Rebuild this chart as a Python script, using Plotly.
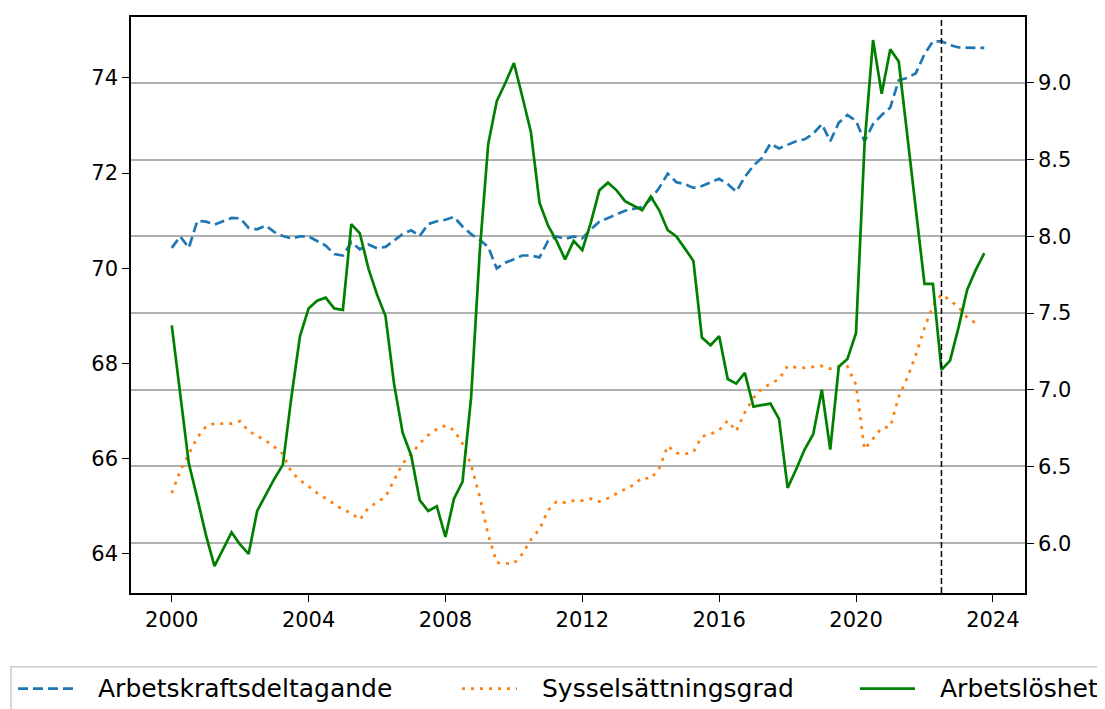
import pandas as pd
import plotly.graph_objects as go

# quarterly observations 2000Q1 - 2023Q4
dates = pd.date_range("2000-01-01", periods=96, freq="QS")

arbetskraft = [
    70.43, 70.67, 70.43, 71.00,
    70.98, 70.92, 70.99, 71.06,
    71.05, 70.85, 70.82, 70.90,
    70.76, 70.68, 70.63, 70.67,
    70.67, 70.57, 70.48, 70.30,
    70.27, 70.55, 70.40, 70.50,
    70.42, 70.45, 70.58, 70.72,
    70.80, 70.68, 70.93, 70.99,
    71.02, 71.08, 70.88, 70.72,
    70.60, 70.45, 70.00, 70.12,
    70.19, 70.27, 70.27, 70.23,
    70.58, 70.67, 70.62, 70.67,
    70.63, 70.82, 70.98, 71.06,
    71.14, 71.21, 71.25, 71.29,
    71.45, 71.69, 71.99, 71.81,
    71.77, 71.69, 71.73, 71.81,
    71.88, 71.77, 71.61, 71.92,
    72.16, 72.32, 72.62, 72.52,
    72.59, 72.67, 72.71, 72.83,
    73.03, 72.67, 73.06, 73.22,
    73.10, 72.67, 73.03, 73.22,
    73.38, 73.95, 74.00, 74.10,
    74.50, 74.77, 74.77, 74.69,
    74.64, 74.63, 74.63, 74.63,
]

syssel = [
    65.28, 65.75, 66.10, 66.45,
    66.68, 66.74, 66.74, 66.74,
    66.79, 66.58, 66.48, 66.38,
    66.25, 66.10, 65.72, 65.55,
    65.42, 65.28, 65.17, 65.05,
    64.93, 64.86, 64.72, 64.97,
    65.08, 65.20, 65.55, 65.90,
    66.10, 66.32, 66.50, 66.62,
    66.70, 66.60, 66.32, 65.87,
    65.20, 64.40, 63.82, 63.80,
    63.80, 64.00, 64.30, 64.52,
    64.92, 65.10, 65.08, 65.12,
    65.12, 65.16, 65.10, 65.17,
    65.27, 65.36, 65.45, 65.60,
    65.58, 65.80, 66.27, 66.12,
    66.10, 66.14, 66.47, 66.52,
    66.60, 66.80, 66.58, 66.97,
    67.28, 67.47, 67.58, 67.67,
    67.95, 67.92, 67.91, 67.93,
    67.95, 67.89, 67.94, 67.94,
    67.55, 66.20, 66.42, 66.65,
    66.67, 67.30, 67.70, 68.18,
    68.75, 69.22, 69.45, 69.33,
    69.18, 68.97, 68.85, None,
]

arbetsloshet = [
    7.42, 6.97, 6.52, 6.29,
    6.05, 5.85, 5.96, 6.07,
    5.99, 5.93, 6.21, 6.32,
    6.42, 6.51, 6.95, 7.35,
    7.53, 7.58, 7.60, 7.53,
    7.52, 8.08, 8.02, 7.79,
    7.62, 7.48, 7.04, 6.72,
    6.57, 6.28, 6.21, 6.24,
    6.04, 6.29, 6.40, 6.95,
    7.90, 8.60, 8.88, 9.00,
    9.13, 8.91, 8.68, 8.22,
    8.07, 7.97, 7.85, 7.97,
    7.91, 8.09, 8.30, 8.35,
    8.30, 8.23, 8.20, 8.17,
    8.26, 8.17, 8.04, 8.00,
    7.92, 7.84, 7.34, 7.29,
    7.35, 7.07, 7.04, 7.11,
    6.89, 6.90, 6.91, 6.81,
    6.36, 6.48, 6.61, 6.71,
    7.00, 6.61, 7.15, 7.20,
    7.37, 8.60, 9.28, 8.93,
    9.22, 9.14, 8.65, 8.15,
    7.69, 7.69, 7.13, 7.19,
    7.41, 7.65, 7.78, 7.89,
]

year_ticks = [str(y) for y in range(2000, 2025, 4)]
left_ticks = [64, 66, 68, 70, 72, 74]
right_ticks = [6.0, 6.5, 7.0, 7.5, 8.0, 8.5, 9.0]
marker_date = "2022-07-01"

# the page body has an 8px margin, so the figure is 8px smaller than the window
OFF = 8
W, H = 1105 - OFF, 709 - OFF
L, T = 131 - OFF, 15 - OFF
R, B = W - (1025 - OFF), H - (593 - OFF)
PW, PH = W - L - R, H - T - B


def px(x):  # page pixel -> paper x
    return (x - OFF - L) / PW


def py(y):  # page pixel -> paper y
    return (H - B - (y - OFF)) / PH


series = [
    ("Arbetskraftsdeltagande", arbetskraft, "#1f77b4", "10px,5px", "y"),
    ("Sysselsättningsgrad", syssel, "#ff7f0e", "3px,6px", "y"),
    ("Arbetslöshet", arbetsloshet, "green", "solid", "y2"),
]

fig = go.Figure()
for name, vals, color, dash, axis in series:
    fig.add_trace(go.Scatter(
        x=dates, y=vals, name=name, mode="lines", yaxis=axis,
        line=dict(color=color, dash=dash, width=2.7),
    ))

# dashed marker line
fig.add_shape(type="line", x0=marker_date, x1=marker_date, xref="x",
              y0=0, y1=1, yref="paper",
              line=dict(color="black", width=1.5, dash="6px,3px"))

# legend below the axes (matplotlib style, runs past the right edge)
fig.add_shape(type="rect", xref="paper", yref="paper",
              x0=px(11), x1=px(1130), y0=py(667), y1=py(730),
              line=dict(color="#cccccc", width=1.5), fillcolor="white",
              layer="below")
legend_x = [18, 462, 860]
for (name, vals, color, dash, axis), x in zip(series, legend_x):
    fig.add_shape(type="line", xref="paper", yref="paper",
                  x0=px(x), x1=px(x + 55), y0=py(689), y1=py(689),
                  line=dict(color=color, dash=dash, width=2.7))
    fig.add_annotation(text=name, xref="paper", yref="paper",
                       x=px(x + 78), y=py(689), xanchor="left", yanchor="middle",
                       showarrow=False,
                       font=dict(family="DejaVu Sans", size=25, color="black"))

fig.update_layout(
    width=W, height=H,
    margin=dict(l=L, r=R, t=T, b=B),
    paper_bgcolor="white", plot_bgcolor="white",
    font=dict(family="DejaVu Sans", size=21, color="black"),
    showlegend=False,
    xaxis=dict(
        range=["1998-10-23", "2024-12-09"],
        tickvals=[f"{y}-01-01" for y in year_ticks], ticktext=year_ticks,
        showgrid=False, zeroline=False,
        showline=True, linecolor="black", linewidth=1.5, mirror=True,
        ticks="outside", ticklen=7, tickcolor="black",
    ),
    yaxis=dict(
        range=[63.18, 75.28], tickvals=left_ticks,
        showgrid=False, zeroline=False,
        showline=True, linecolor="black", linewidth=1.5, mirror=True,
        ticks="outside", ticklen=7, tickcolor="black",
    ),
    yaxis2=dict(
        range=[5.675, 9.43], tickvals=right_ticks, tickformat=".1f",
        overlaying="y", side="right",
        showgrid=True, gridcolor="#b0b0b0", gridwidth=1.5, zeroline=False,
        showline=True, linecolor="black", linewidth=1.5,
        ticks="outside", ticklen=7, tickcolor="black",
    ),
)

fig.write_html("out.html")
